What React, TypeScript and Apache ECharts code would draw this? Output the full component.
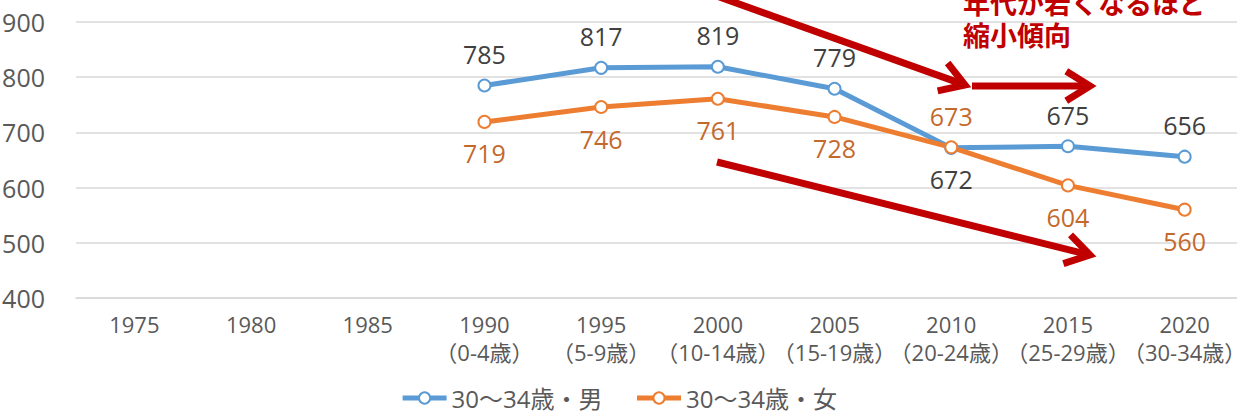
import React, { useEffect, useRef } from "react";
import * as echarts from "echarts";

const categories = ["1975", "1980", "1985", "1990", "1995", "2000", "2005", "2010", "2015", "2020"];
const ageLabels = ["", "", "", "（0-4歳）", "（5-9歳）", "（10-14歳）", "（15-19歳）", "（20-24歳）", "（25-29歳）", "（30-34歳）"];
const maleValues = [null, null, null, 785, 817, 819, 779, 672, 675, 656];
const femaleValues = [null, null, null, 719, 746, 761, 728, 673, 604, 560];
// label placement: true = above
const maleAbove = [true, true, true, true, true, true, true, false, true, true];
const femaleAbove = [false, false, false, false, false, false, false, true, false, false];
const yTicks = { min: 400, max: 900, interval: 100 };
const annotationLines = ["年代が若くなるほど", "縮小傾向"];

const FONT = "'Open Sans', 'Noto Sans CJK JP', sans-serif";
const RED = "#C00000";

function arrow(x1: number, y1: number, x2: number, y2: number) {
  const a = Math.atan2(y2 - y1, x2 - x1);
  const len = 28;
  const spread = (32 * Math.PI) / 180;
  const p1 = [x2 - len * Math.cos(a - spread), y2 - len * Math.sin(a - spread)];
  const p2 = [x2 - len * Math.cos(a + spread), y2 - len * Math.sin(a + spread)];
  const ex = x2 - 4 * Math.cos(a);
  const ey = y2 - 4 * Math.sin(a);
  return [
    { type: "line", shape: { x1, y1, x2: ex, y2: ey }, style: { stroke: RED, lineWidth: 7 }, z: 100 },
    {
      type: "polyline",
      shape: { points: [p1, [x2, y2], p2] },
      style: { stroke: RED, lineWidth: 7, fill: null, lineJoin: "miter" },
      z: 100,
    },
  ];
}

export default function App() {
  const ref = useRef<HTMLDivElement>(null);
  useEffect(() => {
    if (!ref.current) return;
    const chart = echarts.init(ref.current, undefined, { renderer: "svg" });
    const mkData = (vals: (number | null)[], above: boolean[], color: string) =>
      vals.map((v, i) => ({
        value: v,
        label: { position: above[i] ? "top" : "bottom", color },
      }));
    chart.setOption({
      animation: false,
      grid: { left: 76, right: -6, top: 22, bottom: 115, outerBoundsMode: "none", containLabel: false },
      xAxis: {
        type: "category",
        data: categories.map((c, i) => (ageLabels[i] ? c + "\n" + ageLabels[i] : c)),
        boundaryGap: true,
        axisLine: { lineStyle: { color: "#d9d9d9", width: 1.5 } },
        axisTick: { show: false },
        axisLabel: {
          color: "#595959",
          fontFamily: FONT,
          fontSize: 22,
          lineHeight: 28,
          margin: 12,
          interval: 0,
          hideOverlap: false,
        },
      },
      yAxis: {
        type: "value",
        min: yTicks.min,
        max: yTicks.max,
        interval: yTicks.interval,
        axisLine: { show: false },
        axisTick: { show: false },
        splitLine: { lineStyle: { color: "#d9d9d9", width: 1.5 } },
        axisLabel: { color: "#595959", fontFamily: FONT, fontSize: 25, margin: 31 },
      },
      legend: {
        bottom: -2,
        left: "center",
        itemWidth: 44,
        itemHeight: 14,
        itemGap: 32,
        lineStyle: { width: 5 },
        textStyle: { color: "#595959", fontFamily: FONT, fontSize: 24 },
        data: ["30～34歳・男", "30～34歳・女"],
      },
      series: [
        {
          name: "30～34歳・男",
          type: "line",
          data: mkData(maleValues, maleAbove, "#404040"),
          symbol: "circle",
          symbolSize: 12,
          itemStyle: { color: "#fff", borderColor: "#5B9BD5", borderWidth: 2 },
          lineStyle: { color: "#5B9BD5", width: 5 },
          label: { show: true, fontFamily: FONT, fontSize: 25, distance: 12 },
        },
        {
          name: "30～34歳・女",
          type: "line",
          data: mkData(femaleValues, femaleAbove, "#C4692C"),
          symbol: "circle",
          symbolSize: 12,
          itemStyle: { color: "#fff", borderColor: "#ED7D31", borderWidth: 2 },
          lineStyle: { color: "#ED7D31", width: 5 },
          label: { show: true, fontFamily: FONT, fontSize: 25, distance: 12 },
        },
      ],
      graphic: [
        ...arrow(700, -10, 965, 85),
        ...arrow(972, 86, 1090, 86),
        ...arrow(717, 162, 1090, 255),
        {
          type: "text",
          x: 963,
          y: -14,
          z: 100,
          style: {
            text: annotationLines.join("\n"),
            fill: RED,
            font: "bold 27px 'Noto Sans CJK JP', sans-serif",
            lineHeight: 32,
          },
        },
      ],
    });
    return () => chart.dispose();
  }, []);
  return <div ref={ref} style={{ width: 1237, height: 413, position: "absolute", left: 0, top: 0 }} />;
}
